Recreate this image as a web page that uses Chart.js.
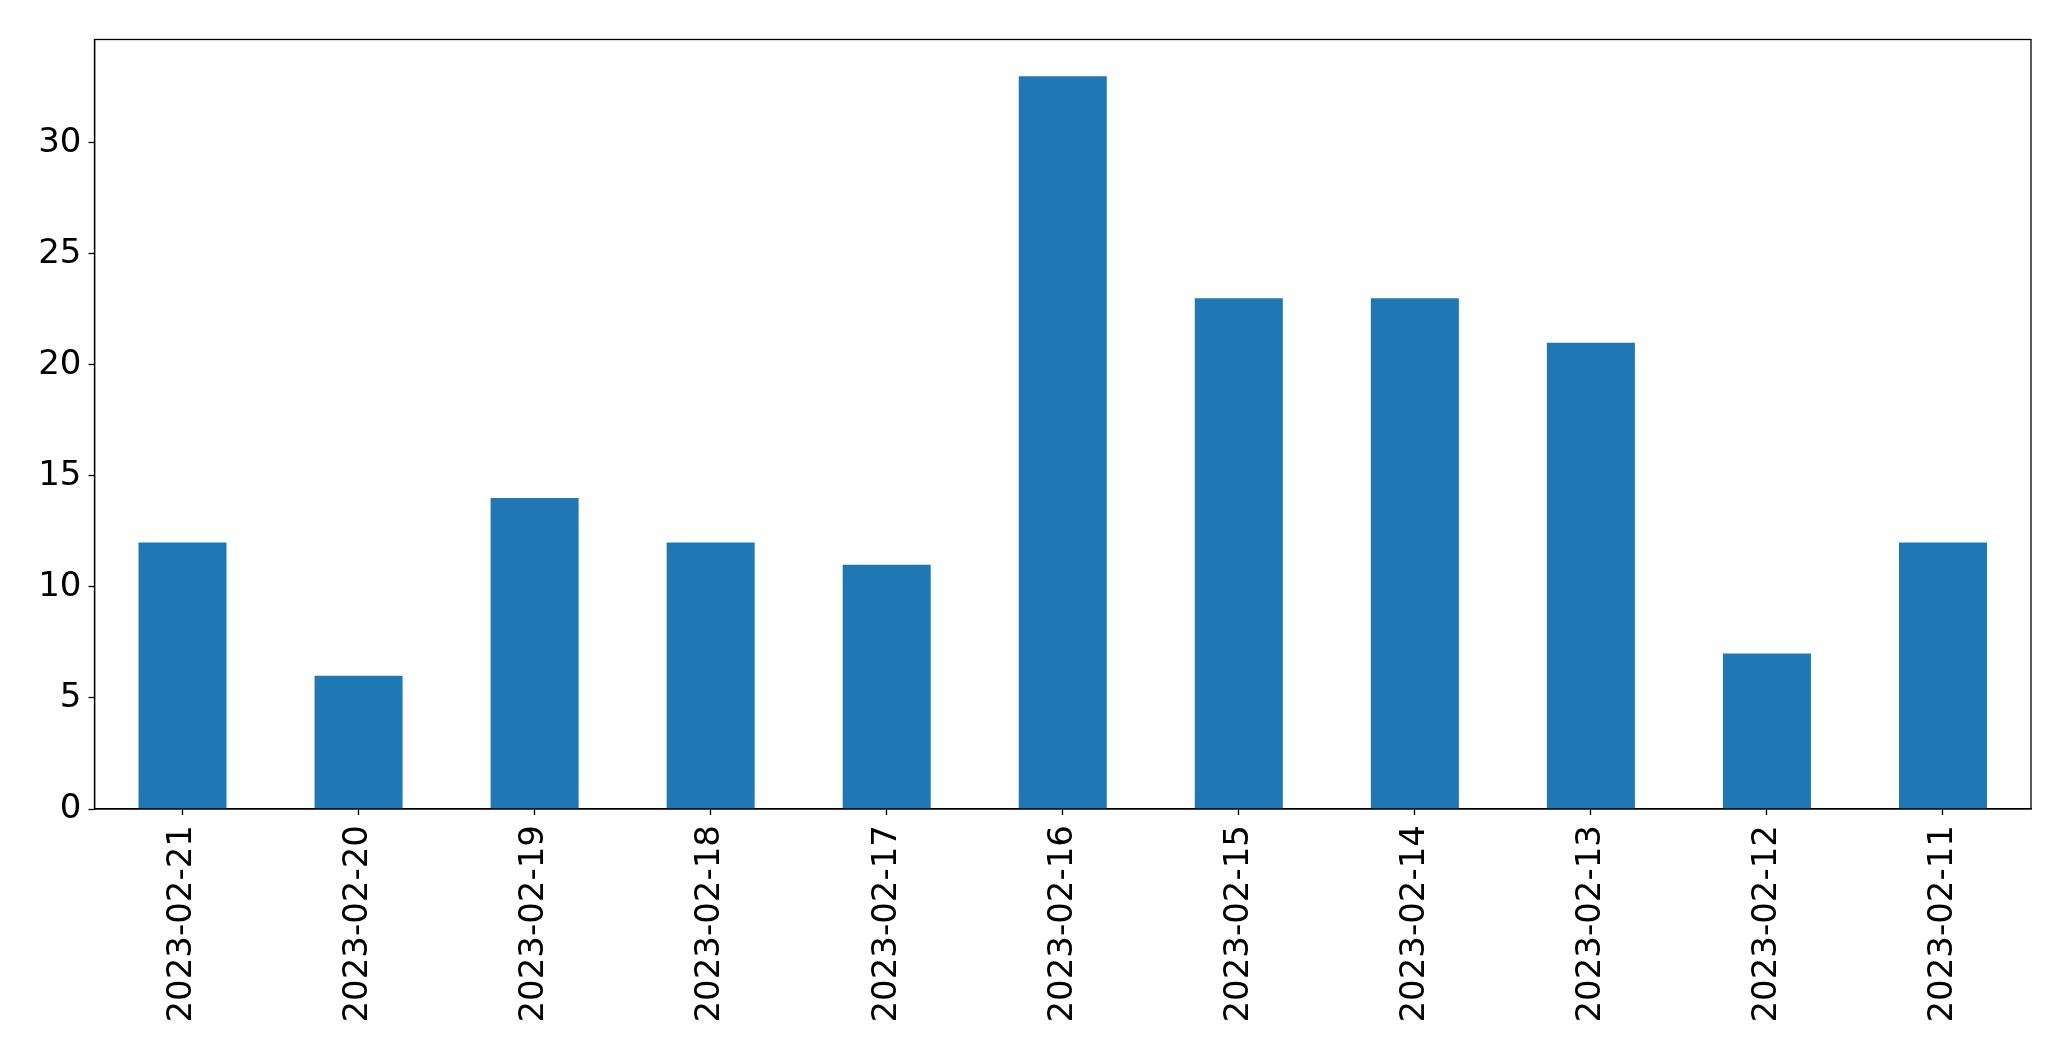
<!DOCTYPE html>
<html>
<head>
<meta charset="utf-8">
<script src="https://cdn.jsdelivr.net/npm/chart.js@4"></script>
<style>
  html, body { margin: 0; padding: 0; background: #fff; }
  #wrap { width: 2071px; height: 1061px; }
</style>
</head>
<body>
<div id="wrap"><canvas id="c" width="2071" height="1061"></canvas></div>
<script>
const categories = ["2023-02-21","2023-02-20","2023-02-19","2023-02-18","2023-02-17","2023-02-16","2023-02-15","2023-02-14","2023-02-13","2023-02-12","2023-02-11"];
const counts = [12, 6, 14, 12, 11, 33, 23, 23, 21, 7, 12];
const yTicks = [0, 5, 10, 15, 20, 25, 30];

const frame = {
  id: 'frame',
  afterDatasetsDraw(chart) {
    const a = chart.chartArea, ctx = chart.ctx;
    ctx.save();
    ctx.strokeStyle = '#000';
    ctx.lineWidth = 1.3;
    ctx.strokeRect(a.left, a.top, a.right - a.left, a.bottom - a.top);
    ctx.restore();
  }
};

Chart.defaults.font.family = "'DejaVu Sans', sans-serif";
Chart.defaults.color = '#000';

new Chart(document.getElementById('c'), {
  type: 'bar',
  data: {
    labels: categories,
    datasets: [{
      data: counts,
      backgroundColor: '#1f77b4',
      borderWidth: 0,
      categoryPercentage: 1.0,
      barPercentage: 0.5
    }]
  },
  options: {
    responsive: false,
    animation: false,
    devicePixelRatio: 1,
    layout: { padding: { left: 0, right: 40, top: 39.5, bottom: 0 } },
    plugins: { legend: { display: false }, tooltip: { enabled: false } },
    scales: {
      x: {
        offset: true,
        grid: { display: true, drawOnChartArea: false, drawTicks: true, tickLength: 6, color: '#000', tickWidth: 1.3, offset: false },
        border: { display: true, color: '#000', width: 1.3 },
        ticks: { minRotation: 90, maxRotation: 90, padding: 10, font: { size: 34 }, color: '#000', autoSkip: false },
        afterFit(scale) { scale.height = 1061 - 809; }
      },
      y: {
        min: 0,
        max: 34.65,
        grid: { display: true, drawOnChartArea: false, drawTicks: true, tickLength: 6, color: '#000', tickWidth: 1.3 },
        border: { display: true, color: '#000', width: 1.3 },
        ticks: { stepSize: 5, padding: 7, font: { size: 34 }, color: '#000' },
        afterBuildTicks(scale) { scale.ticks = yTicks.map(v => ({ value: v })); },
        afterFit(scale) { scale.width = 94.5; }
      }
    }
  },
  plugins: [frame]
});
</script>
</body>
</html>
